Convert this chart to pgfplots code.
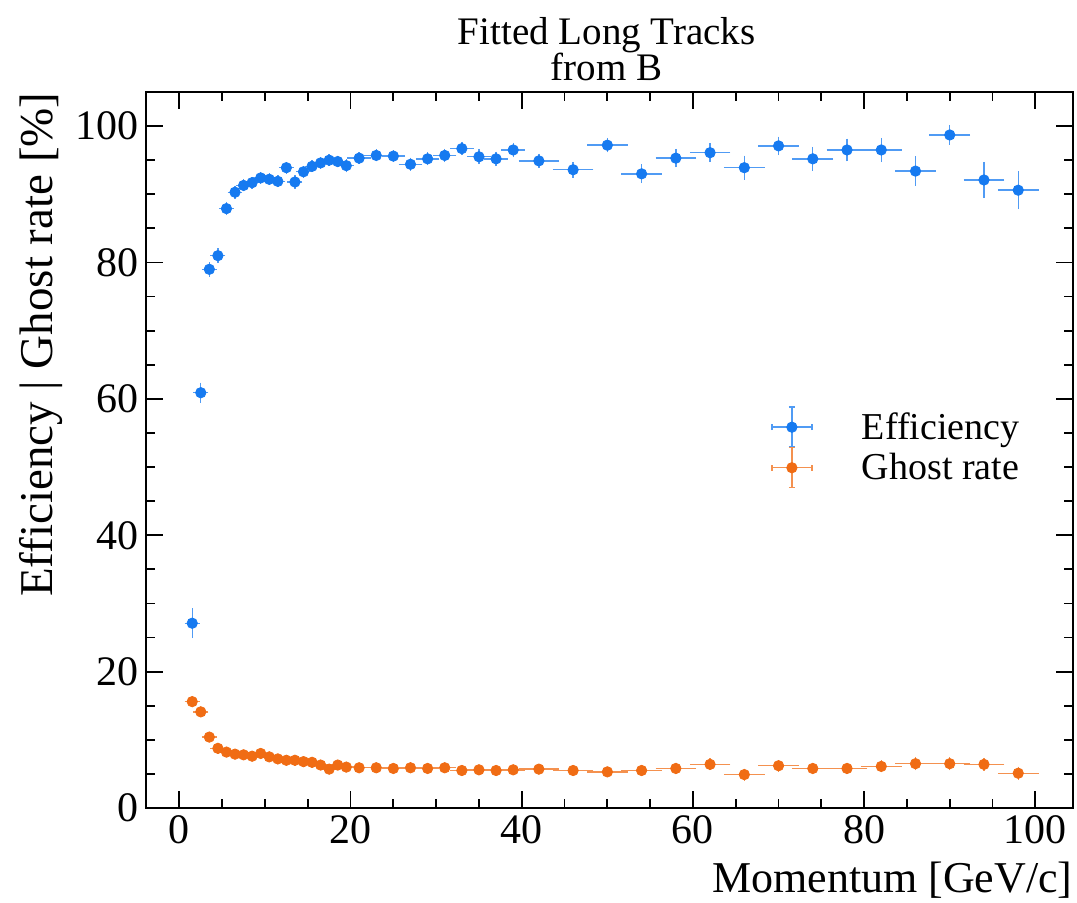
\documentclass[border=0pt]{standalone}
\usepackage{fontspec}
\setmainfont{Liberation Serif}
\usepackage{pgfplots}
\pgfplotsset{compat=1.18}
\usepackage{pgfplotstable}
\definecolor{effblue}{RGB}{22,122,240}
\definecolor{ghostor}{RGB}{240,108,20}

\pgfplotstableread{
x y ex ey
1.5 27.1 0.5 1.7
2.5 60.9 0.5 1.0
3.5 79.0 0.5 0.6
4.5 81.0 0.5 0.6
5.5 87.9 0.5 0.5
6.5 90.3 0.5 0.5
7.5 91.3 0.5 0.4
8.5 91.7 0.5 0.4
9.5 92.4 0.5 0.4
10.5 92.2 0.5 0.4
11.5 91.9 0.5 0.4
12.5 93.9 0.5 0.4
13.5 91.8 0.5 0.5
14.5 93.3 0.5 0.4
15.5 94.1 0.5 0.4
16.5 94.6 0.5 0.4
17.5 95.0 0.5 0.4
18.5 94.8 0.5 0.4
19.5 94.2 0.5 0.5
21 95.3 1 0.4
23 95.7 1 0.4
25 95.6 1 0.4
27 94.4 1 0.5
29 95.2 1 0.5
31 95.7 1 0.5
33 96.7 1 0.5
35 95.5 1 0.6
37 95.2 1 0.6
39 96.5 1 0.6
42 94.9 2 0.6
46 93.6 2 0.7
50 97.2 2 0.6
54 93.0 2 0.9
58 95.3 2 0.9
62 96.1 2 0.9
66 93.9 2 1.3
70 97.1 2 0.9
74 95.2 2 1.3
78 96.5 2 1.2
82 96.5 2 1.3
86 93.4 2 1.7
90 98.7 2 1.0
94 92.1 2 2.2
98 90.6 2 2.3
}\effdata

\pgfplotstableread{
x y ex ey
1.5 15.6 0.5 0.3
2.5 14.1 0.5 0.3
3.5 10.4 0.5 0.3
4.5 8.75 0.5 0.3
5.5 8.2 0.5 0.3
6.5 7.9 0.5 0.3
7.5 7.8 0.5 0.3
8.5 7.6 0.5 0.3
9.5 8.0 0.5 0.3
10.5 7.5 0.5 0.3
11.5 7.2 0.5 0.3
12.5 7.0 0.5 0.3
13.5 7.0 0.5 0.3
14.5 6.8 0.5 0.3
15.5 6.7 0.5 0.3
16.5 6.3 0.5 0.3
17.5 5.7 0.5 0.3
18.5 6.3 0.5 0.3
19.5 6.0 0.5 0.3
21 5.9 1 0.3
23 5.9 1 0.3
25 5.8 1 0.3
27 5.9 1 0.3
29 5.8 1 0.3
31 5.9 1 0.3
33 5.5 1 0.3
35 5.6 1 0.3
37 5.5 1 0.3
39 5.6 1 0.3
42 5.7 2 0.3
46 5.5 2 0.3
50 5.3 2 0.3
54 5.5 2 0.3
58 5.8 2 0.4
62 6.4 2 0.4
66 4.9 2 0.4
70 6.2 2 0.4
74 5.8 2 0.4
78 5.8 2 0.4
82 6.1 2 0.4
86 6.5 2 0.5
90 6.5 2 0.5
94 6.4 2 0.5
98 5.1 2 0.5
}\ghostdata

\begin{document}
\begin{tikzpicture}
\path[use as bounding box] (0,0) rectangle (538.5pt,451pt);
\begin{axis}[
  at={(73pt,47pt)}, anchor=south west, scale only axis,
  width=463.5pt, height=358pt,
  xmin=-3.9, xmax=104.4, ymin=0, ymax=105,
  xtick={0,20,...,100}, ytick={0,20,...,100},
  minor x tick num=3, minor y tick num=3,
  tick align=inside, major tick length=8.5pt, minor tick length=4.5pt,
  every tick/.style={black, line width=0.9pt},
  axis line style={line width=1pt},
  tick label style={font=\fontsize{21}{25}\selectfont},
  /pgf/number format/assume math mode=true,
  xlabel={Momentum [GeV/c]},
  ylabel={Efficiency | Ghost rate [\%]},
  xlabel style={font=\fontsize{22}{26}\selectfont, at={(axis description cs:1,0)}, anchor=base east, yshift=-42pt, inner sep=0pt},
  ylabel style={font=\fontsize{23.5}{28}\selectfont, at={(axis description cs:-0.101,1)}, anchor=base east, inner sep=0pt},
  title={Fitted Long Tracks\\[-1.2pt]from B},
  title style={font=\fontsize{19.5}{15.5}\selectfont, align=center, at={(axis description cs:0.497,1)}, anchor=south, inner sep=0pt, yshift=-0.5pt},
  legend style={at={(axis description cs:0.674,0.556)}, anchor=north west, draw=none, fill=none,
    font=\fontsize{19}{22}\selectfont, row sep=3.5pt, inner sep=0pt, nodes={inner sep=1pt}},
  legend cell align=left,
  error bars/error bar style={line width=0.7pt},
  error bars/error mark options={line width=0.7pt, mark size=1.6pt},
]
\addplot[only marks, mark=*, mark size=2.6pt, color=effblue,
  legend image code/.code={%
    \draw[effblue!75, line width=0.7pt] (0pt,0pt) -- (20pt,0pt);
    \draw[overlay, effblue!75, line width=0.7pt] (10pt,-10pt) -- (10pt,10pt);
    \draw[overlay, effblue!75, line width=0.7pt] (0pt,-1.5pt) -- (0pt,1.5pt) (20pt,-1.5pt) -- (20pt,1.5pt) (8.5pt,10pt) -- (11.5pt,10pt) (8.5pt,-10pt) -- (11.5pt,-10pt);
    \fill[effblue] (10pt,0pt) circle (2.6pt);
    \path[draw=none] (0pt,0pt) -- (44pt,0pt);
  },
  error bars/.cd, x dir=both, x explicit, y dir=both, y explicit,
  error bar style={effblue!75}]
  table[x=x, y=y, x error=ex, y error=ey] {\effdata};
\addlegendentry{Efficiency}
\addplot[only marks, mark=*, mark size=2.6pt, color=ghostor,
  legend image code/.code={%
    \draw[ghostor!75, line width=0.7pt] (0pt,0pt) -- (20pt,0pt);
    \draw[overlay, ghostor!75, line width=0.7pt] (10pt,-10pt) -- (10pt,10pt);
    \draw[overlay, ghostor!75, line width=0.7pt] (0pt,-1.5pt) -- (0pt,1.5pt) (20pt,-1.5pt) -- (20pt,1.5pt) (8.5pt,10pt) -- (11.5pt,10pt) (8.5pt,-10pt) -- (11.5pt,-10pt);
    \fill[ghostor] (10pt,0pt) circle (2.6pt);
    \path[draw=none] (0pt,0pt) -- (44pt,0pt);
  },
  error bars/.cd, x dir=both, x explicit, y dir=both, y explicit,
  error bar style={ghostor!75}]
  table[x=x, y=y, x error=ex, y error=ey] {\ghostdata};
\addlegendentry{Ghost rate}
\end{axis}
\end{tikzpicture}
\end{document}
